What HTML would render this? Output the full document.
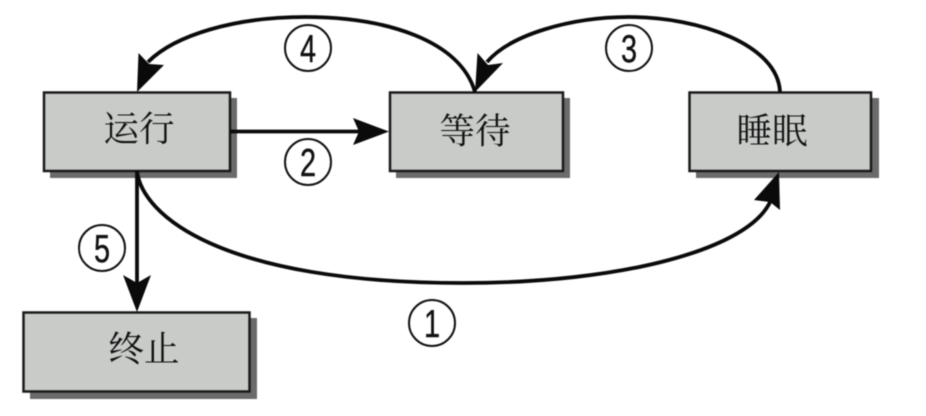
<!DOCTYPE html>
<html><head><meta charset="utf-8"><style>
html,body{margin:0;padding:0;background:#fff;width:926px;height:416px;overflow:hidden}
svg{display:block;filter:blur(.45px)}
.t{font-family:"Liberation Serif","Noto Serif CJK SC",serif;font-size:35.500px;fill:#111;text-anchor:middle}
.n{font-family:"Liberation Sans",sans-serif;font-size:39px;fill:#111;text-anchor:middle;stroke:#111;stroke-width:.4}
.c{fill:#fff;stroke:#111;stroke-width:2}
.b{fill:#c8cbc8;stroke:#1a1a1a;stroke-width:2.500}
.s{fill:#6b6b6b}
.l{fill:none;stroke:#0a0a0a;stroke-width:3.800}
.h{fill:#0a0a0a}
</style></head><body>
<svg width="926" height="416" viewBox="0 0 926 416" xmlns="http://www.w3.org/2000/svg">
<rect class="s" x="50" y="98" width="187" height="80"/>
<rect class="s" x="396" y="98" width="174" height="80"/>
<rect class="s" x="696" y="98" width="183" height="80"/>
<rect class="s" x="30" y="318" width="227" height="81"/>
<rect class="b" x="44" y="92.500" width="186" height="78.500"/>
<rect class="b" x="390" y="92.500" width="173" height="78.500"/>
<rect class="b" x="689.500" y="92.500" width="181.500" height="78.500"/>
<rect class="b" x="23.500" y="312.500" width="226" height="79"/>
<path class="l" d="M475 92C460 40 385 17 305 17C235 17 175 35 148 62"/>
<path class="l" d="M780 92C778 45 700 17 629 17C570 17 510 35 487 62"/>
<path class="l" d="M137 171C142 215 220 283 463 283C620 283 750 250 771 200"/>
<path class="l" d="M230 131.500H365"/>
<path class="l" d="M137 171V290"/>
<polygon class="h" points="137,92 138.500,53 149,64 164,65"/>
<polygon class="h" points="475,92 477.500,53 488,65 503,63"/>
<polygon class="h" points="779,172 754,200 770,202 780,210"/>
<polygon class="h" points="389,131.500 353,118 359,131.500 353,145"/>
<polygon class="h" points="137,312 123,275 137,283 151,275"/>
<text class="t" x="139" y="141">运行</text>
<text class="t" x="475" y="143">等待</text>
<text class="t" x="772" y="143">睡眠</text>
<text class="t" x="144" y="361">终止</text>
<circle class="c" cx="308" cy="48" r="23"/>
<circle class="c" cx="308" cy="162" r="23"/>
<circle class="c" cx="629" cy="48" r="23"/>
<circle class="c" cx="102" cy="248" r="23"/>
<circle class="c" cx="432" cy="323" r="23"/>
<text class="n" transform="translate(308 62) scale(.74 1)">4</text>
<text class="n" transform="translate(308 176) scale(.74 1)">2</text>
<text class="n" transform="translate(629 62) scale(.74 1)">3</text>
<text class="n" transform="translate(102 262) scale(.74 1)">5</text>
<text class="n" transform="translate(432 337) scale(.74 1)">1</text>
</svg>
</body></html>
